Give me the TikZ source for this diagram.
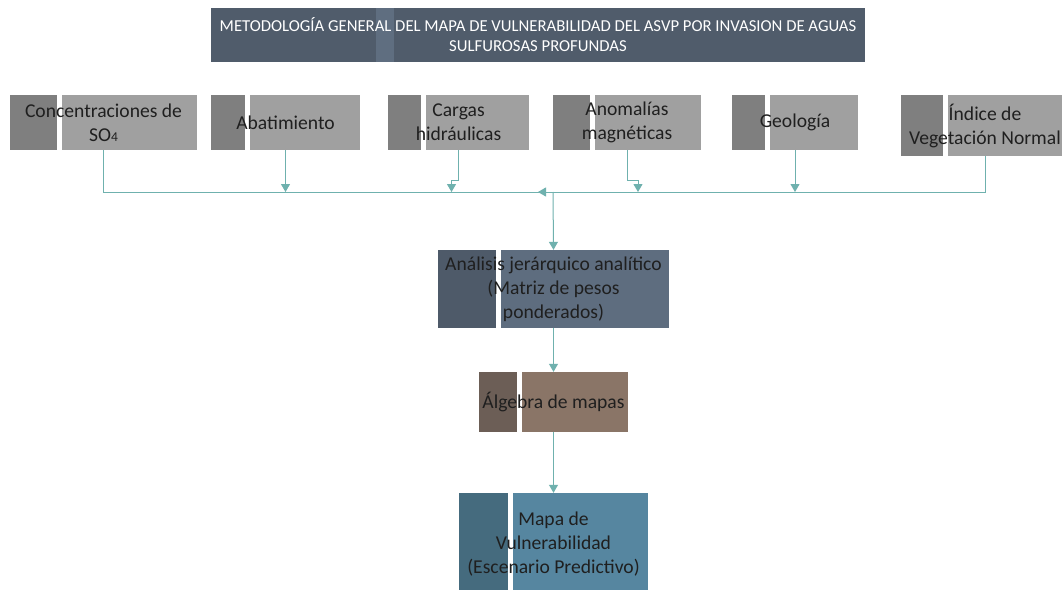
\documentclass[tikz,border=0pt]{standalone}
\usepackage{fontspec}
\setmainfont{Carlito}
\usetikzlibrary{arrows.meta}

\definecolor{linkc}{HTML}{6FB1AE}
\definecolor{grayd}{HTML}{7F7F7F}
\definecolor{grayl}{HTML}{A0A0A0}
\definecolor{titlebg}{HTML}{505C6B}
\definecolor{titlehi}{HTML}{5F6E80}
\definecolor{ahpd}{HTML}{4E5A69}
\definecolor{ahpl}{HTML}{5E6D7F}
\definecolor{algd}{HTML}{6C5E56}
\definecolor{algl}{HTML}{8A7567}
\definecolor{mapd}{HTML}{456B7E}
\definecolor{mapl}{HTML}{5686A0}

\begin{document}
\begin{tikzpicture}[x=1pt,y=-1pt,
    leftw/.store in=\leftw, leftc/.store in=\leftc,
    stripew/.store in=\stripew, stripec/.store in=\stripec,
    leftw=35pt, leftc=grayd, stripew=5pt, stripec=white]
        \tikzstyle{stage}=[rectangle,inner sep=0pt,align=center,text=black!88,
          font=\fontsize{19.6}{24}\selectfont,
          path picture={
            \fill[\leftc] (path picture bounding box.north west) rectangle ([xshift=\leftw]path picture bounding box.south west);
            \fill[\stripec] ([xshift=\leftw]path picture bounding box.north west) rectangle ([xshift=\leftw+\stripew]path picture bounding box.south west);}]
        \tikzstyle{factor}=[stage,fill=grayl,leftc=grayd,minimum height=55pt]
        \tikzstyle{link}=[draw=linkc,line width=1pt]
        \tikzstyle{flow}=[link,-{Triangle[width=9pt,length=8pt]}]

        \path[fill=white,use as bounding box] (0,0) rectangle (1062,589);

        % titulo
        \node [stage,fill=titlebg,leftc=titlebg,leftw=165pt,stripec=titlehi,stripew=18pt,
          text=white,font=\fontsize{16.7}{20}\selectfont,minimum width=654pt,minimum height=54pt]
          (title) at (538,35) {METODOLOGÍA GENERAL DEL MAPA DE VULNERABILIDAD DEL ASVP POR INVASION DE AGUAS\\SULFUROSAS PROFUNDAS};

        % factores
        \node [factor,minimum width=187pt,leftw=47pt] (conc) at (103.5,122.5) {Concentraciones de\\SO{\fontsize{13.5}{13.5}\selectfont 4}};
        \node [factor,minimum width=149pt,leftw=34pt] (abat) at (285.5,122.5) {Abatimiento};
        \node [factor,minimum width=141pt,leftw=33pt] (cargas) at (458.5,122.5) {Cargas\\hidráulicas};
        \node [factor,minimum width=148pt,leftw=37pt] (anom) at (627,122.5) {Anomalías\\magnéticas};
        \node [factor,minimum width=126pt,leftw=33pt] (geol) at (795,122.5) {Geología};
        \node [factor,minimum width=168pt,minimum height=61pt,leftw=42pt] (ndvi) at (985,125.5) {Índice de\\Vegetación Normal};

        % etapas
        \node [stage,fill=ahpl,leftc=ahpd,leftw=58pt,minimum width=231pt,minimum height=78pt] (ahp) at (553.5,289) {Análisis jerárquico analítico\\(Matriz de pesos\\ponderados)};
        \node [stage,fill=algl,leftc=algd,leftw=38pt,minimum width=149pt,minimum height=60pt] (alg) at (553.5,402) {Álgebra de mapas};
        \node [stage,fill=mapl,leftc=mapd,leftw=49pt,minimum width=189pt,minimum height=102pt] (mapa) at (553.5,544) {Mapa de\\Vulnerabilidad\\(Escenario Predictivo)};

        \coordinate (join) at (553,192);

        \path[link] (conc.south) |- (join);
        \path[flow] (ndvi.south) |- ([xshift=-15pt]join);
        \path[flow] (abat.south) -- (abat.south |- join);
        \path[flow] (cargas.south) -- ++(0,30) -| ([xshift=-7pt]cargas.south |- join);
        \path[flow] (anom.south) -- ++(0,30) -| ([xshift=11pt]anom.south |- join);
        \path[flow] (geol.south) -- (geol.south |- join);
        \path[flow] (join) -- (ahp.north);
        \path[flow] (ahp.south) -- (alg.north);
        \path[flow] (alg.south) -- (mapa.north);
      \end{tikzpicture}
\end{document}
